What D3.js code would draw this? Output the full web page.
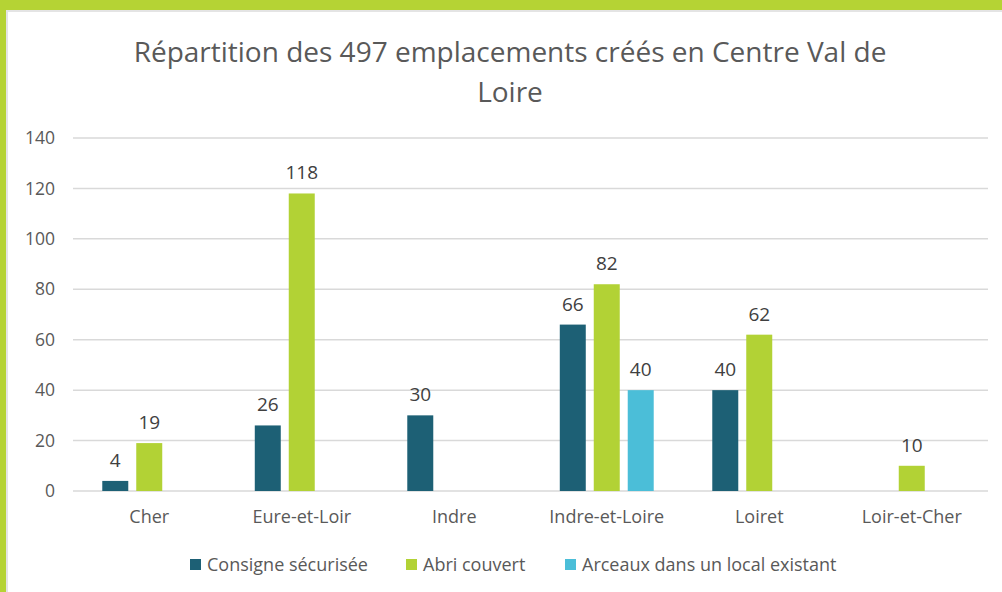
<!DOCTYPE html>
<html lang="fr">
<head>
  <meta charset="UTF-8">
  <title>Répartition des 497 emplacements</title>
  <style>
    html, body { margin: 0; padding: 0; background: #fff; }
    svg { display: block; font-family: "Open Sans", sans-serif; }
  </style>
</head>
<body>
  <svg width="1002" height="592"></svg>

  <script src="https://d3js.org/d3.v7.min.js"></script>
  <script>
    const categories = ["Cher", "Eure-et-Loir", "Indre", "Indre-et-Loire", "Loiret", "Loir-et-Cher"];
    const seriesNames = ["Consigne sécurisée", "Abri couvert", "Arceaux dans un local existant"];
    const consigne = [4, 26, 30, 66, 40, null];
    const abri = [19, 118, null, 82, 62, 10];
    const arceaux = [null, null, null, 40, null, null];
    const yTicks = [0, 20, 40, 60, 80, 100, 120, 140];
    const colors = ["#1d6075", "#b2d235", "#4bbed8"];

    const series = [consigne, abri, arceaux];
    const width = 1002, height = 592;
    const margin = { top: 138, right: 14, bottom: 101, left: 73 };

    const svg = d3.select("svg");

    // cadre vert
    svg.append("rect").attr("x", 0).attr("y", 0).attr("width", width).attr("height", 10).attr("fill", "#b5d334");
    svg.append("rect").attr("x", 0).attr("y", 0).attr("width", 6).attr("height", height).attr("fill", "#b5d334");
    svg.append("rect").attr("x", 6).attr("y", 10).attr("width", 2).attr("height", height).attr("fill", "#e4e4e4");
    svg.append("rect").attr("x", 6).attr("y", 10).attr("width", width).attr("height", 2).attr("fill", "#e4e4e4");

    const x0 = d3.scaleBand()
      .domain(categories)
      .range([margin.left, width - margin.right])
      .paddingInner(0.384)
      .paddingOuter(0.192);

    const x1 = d3.scaleBand()
      .domain(d3.range(series.length))
      .range([0, x0.bandwidth()])
      .paddingInner(0.235);

    const y = d3.scaleLinear()
      .domain([0, 140])
      .range([height - margin.bottom, margin.top]);

    // grille
    svg.append("g")
      .selectAll("line")
      .data(yTicks)
      .join("line")
      .attr("x1", margin.left)
      .attr("x2", width - margin.right)
      .attr("y1", d => y(d))
      .attr("y2", d => y(d))
      .attr("stroke", "#d9d9d9")
      .attr("stroke-width", 1.5);

    const yAxis = svg.append("g")
      .attr("transform", `translate(${margin.left - 18},0)`)
      .call(d3.axisLeft(y).tickValues(yTicks).tickSize(0).tickPadding(0));
    yAxis.select(".domain").remove();
    yAxis.selectAll("text")
      .attr("fill", "#595959")
      .style("font-size", "17.5px")
      .style("font-family", "Open Sans, sans-serif");

    const xAxis = svg.append("g")
      .attr("transform", `translate(0,${height - margin.bottom})`)
      .call(d3.axisBottom(x0).tickSize(0).tickPadding(19));
    xAxis.select(".domain").remove();
    xAxis.selectAll("text")
      .attr("fill", "#595959")
      .style("font-size", "18px")
      .style("font-family", "Open Sans, sans-serif");

    // barres
    const rows = [];
    series.forEach((vals, s) => {
      vals.forEach((v, i) => {
        if (v !== null) rows.push({ cat: categories[i], s, v });
      });
    });

    svg.append("g")
      .selectAll("rect")
      .data(rows)
      .join("rect")
      .attr("x", d => x0(d.cat) + x1(d.s))
      .attr("width", x1.bandwidth())
      .attr("y", d => y(d.v))
      .attr("height", d => y(0) - y(d.v))
      .attr("fill", d => colors[d.s]);

    svg.append("g")
      .selectAll("text")
      .data(rows)
      .join("text")
      .attr("x", d => x0(d.cat) + x1(d.s) + x1.bandwidth() / 2)
      .attr("y", d => y(d.v) - 14)
      .attr("text-anchor", "middle")
      .attr("fill", "#404040")
      .style("font-size", "19px")
      .text(d => d.v);

    // titre
    const title = svg.append("text")
      .attr("text-anchor", "middle")
      .attr("fill", "#595959")
      .style("font-size", "28px");
    title.append("tspan").attr("x", 510).attr("y", 62).text("Répartition des 497 emplacements créés en Centre Val de");
    title.append("tspan").attr("x", 510).attr("y", 102).text("Loire");

    // légende
    const legendX = [190, 406, 565];
    const legend = svg.append("g")
      .selectAll("g")
      .data(seriesNames)
      .join("g")
      .attr("transform", (d, i) => `translate(${legendX[i]},564)`);
    legend.append("rect")
      .attr("x", 0).attr("y", -5)
      .attr("width", 11).attr("height", 11)
      .attr("fill", (d, i) => colors[i]);
    legend.append("text")
      .attr("x", 17).attr("y", 6.5)
      .attr("fill", "#595959")
      .style("font-size", "18px")
      .text(d => d);
  </script>
</body>
</html>
